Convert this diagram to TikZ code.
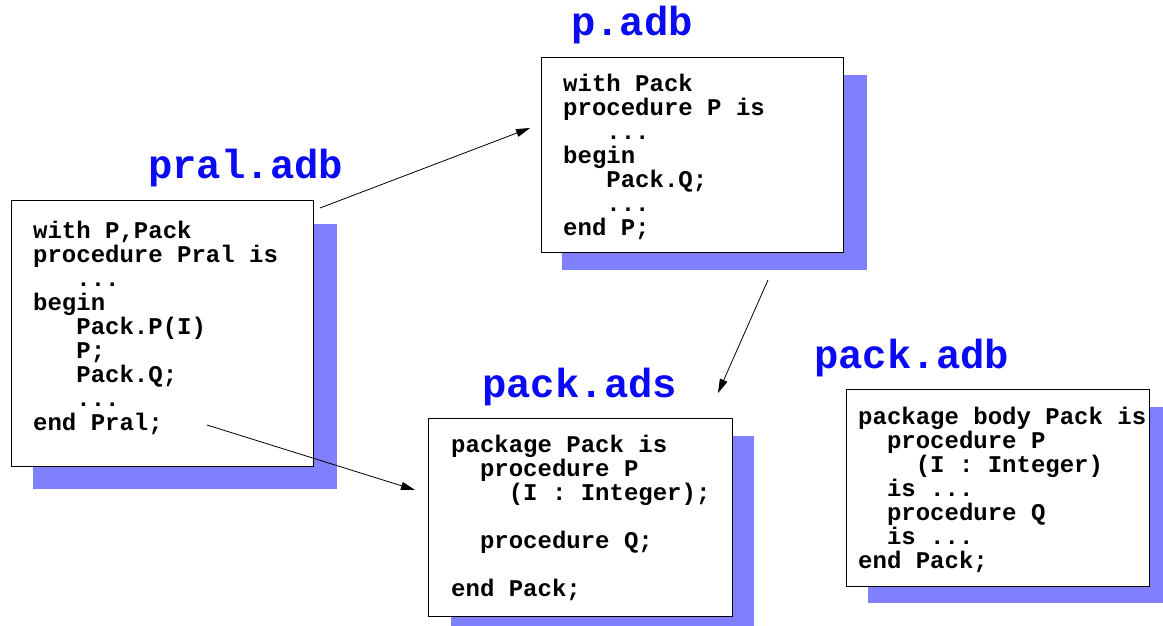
\documentclass[tikz,border=0pt]{standalone}
\usepackage{fontspec}
\setmonofont{Liberation Mono}
\usetikzlibrary{arrows.meta,calc}
\definecolor{shadowc}{RGB}{128,128,255}
\definecolor{titleblue}{RGB}{10,10,245}
\newlength\cw \setlength\cw{14.4pt}
\newcommand\ci[1]{\hspace*{#1\cw}}
\tikzset{
  shadowbox/.style={fill=shadowc, draw=none, inner sep=0pt, outer sep=0pt, anchor=north west},
  framebox/.style={draw=black, fill=white, line width=1pt, inner sep=0pt, outer sep=0pt, anchor=north west},
  codetext/.style={anchor=base west, inner sep=0pt, font=\ttfamily\bfseries\fontsize{24}{24}\selectfont},
  titletext/.style={anchor=base west, inner sep=0pt, text=titleblue, font=\ttfamily\bfseries\fontsize{40.6}{44}\selectfont},
  link/.style={-{Triangle[length=14pt,width=8pt]}, line width=0.8pt}
}
\begin{document}
\begin{tikzpicture}[x=1pt,y=-1pt]
\useasboundingbox (0,0) rectangle (1163,625);
\begin{scope}
\clip (0,0) rectangle (1163,625);
% pral.adb
\node[shadowbox, minimum width=304pt, minimum height=265pt] (pralsh) at (33,224) {};
\node[framebox, minimum width=302pt, minimum height=266pt] (pral) at (11,200) {};
\node[titletext] (praltitle) at (148,178) {pral.adb};
\node[codetext] (praltxt) at (33,238) {\parbox[t]{280pt}{\raggedright
with P,Pack\\
procedure Pral is\\
\ci{3}...\\
begin\\
\ci{3}Pack.P(I)\\
\ci{3}P;\\
\ci{3}Pack.Q;\\
\ci{3}...\\
end Pral;}};
% p.adb
\node[shadowbox, minimum width=305pt, minimum height=195pt] (psh) at (562,75) {};
\node[framebox, minimum width=302pt, minimum height=195pt] (p) at (541,57) {};
\node[titletext] (ptitle) at (571,35) {p.adb};
\node[codetext] (ptxt) at (563,91) {\parbox[t]{280pt}{\raggedright
with Pack\\
procedure P is\\
\ci{3}...\\
begin\\
\ci{3}Pack.Q;\\
\ci{3}...\\
end P;}};
% pack.ads
\node[shadowbox, minimum width=303pt, minimum height=204pt] (adssh) at (451,436) {};
\node[framebox, minimum width=304pt, minimum height=198pt] (ads) at (428,418) {};
\node[titletext] (adstitle) at (482,397) {pack.ads};
\node[codetext] (adstxt) at (451,452) {\parbox[t]{280pt}{\raggedright
package Pack is\\
\ci{2}procedure P\\
\ci{4}(I : Integer);\\[24pt]
\ci{2}procedure Q;\\[24pt]
end Pack;}};
% pack.adb
\node[shadowbox, minimum width=300pt, minimum height=196pt] (adbsh) at (868,407) {};
\node[framebox, minimum width=303pt, minimum height=197pt] (adb) at (846,389) {};
\node[titletext] (adbtitle) at (814,368) {pack.adb};
\node[codetext] (adbtxt) at (858,424) {\parbox[t]{290pt}{\raggedright
package body Pack is\\
\ci{2}procedure P\\
\ci{4}(I : Integer)\\
\ci{2}is ...\\
\ci{2}procedure Q\\
\ci{2}is ...\\
end Pack;}};
\end{scope}
% connectors
\draw[link] ($(pral.north east)+(7,8)$) -- ($(p.north west)+(-11,71)$);
\draw[link] ($(p.south east)+(-75,28)$) -- ($(ads.north east)+(-14,-25)$);
\draw[link] ($(pral.south east)+(-106,-41)$) -- ($(ads.north west)+(-13,72)$);
\end{tikzpicture}
\end{document}
